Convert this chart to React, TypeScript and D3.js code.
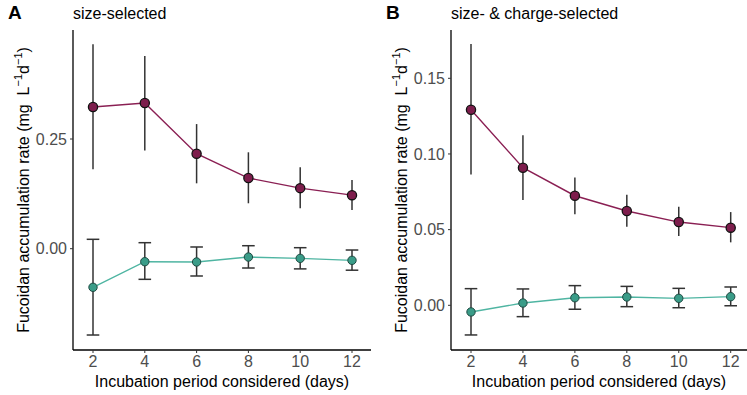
import React from "react";
import * as d3 from "d3";

const days = [2, 4, 6, 8, 10, 12];

// Panel A: size-selected
const aHighMean = [0.323, 0.332, 0.2165, 0.161, 0.138, 0.122];
const aHighLo = [0.181, 0.224, 0.149, 0.1035, 0.092, 0.088];
const aHighHi = [0.466, 0.439, 0.284, 0.2197, 0.1855, 0.1566];
const aLowMean = [-0.088, -0.0296, -0.0303, -0.019, -0.022, -0.0265];
const aLowLo = [-0.1967, -0.0698, -0.0622, -0.044, -0.046, -0.049];
const aLowHi = [0.0214, 0.0137, 0.0039, 0.0068, 0.0023, -0.003];
const aTicks = [0.0, 0.25];

// Panel B: size- & charge-selected
const bHighMean = [0.1292, 0.0909, 0.0724, 0.0623, 0.055, 0.0513];
const bHighLo = [0.0865, 0.0696, 0.0601, 0.0519, 0.0458, 0.0416];
const bHighHi = [0.1726, 0.1123, 0.0845, 0.073, 0.0651, 0.0616];
const bLowMean = [-0.0044, 0.0015, 0.005, 0.0055, 0.0046, 0.0057];
const bLowLo = [-0.0196, -0.0075, -0.0026, -0.0009, -0.0016, -0.0003];
const bLowHi = [0.011, 0.0108, 0.013, 0.0125, 0.0112, 0.0121];
const bTicks = [0.0, 0.05, 0.1, 0.15];

const FONT = "'Liberation Sans', Arial, sans-serif";
const MAG = "#8a1f53";
const MAG_FILL = "#7d1d4c";
const TEAL = "#4fb5a2";
const TEAL_FILL = "#3a9c88";
const ERR = "#333333";

type PanelProps = {
  letter: string;
  title: string;
  axisLeft: number;
  axisRight: number;
  x2px: number;
  x12px: number;
  yDomain: [number, number];
  yRange: [number, number];
  ticks: number[];
  fmt: (v: number) => string;
  high: { mean: number[]; lo: number[]; hi: number[] };
  low: { mean: number[]; lo: number[]; hi: number[] };
};

function Panel(p: PanelProps) {
  const top = 30;
  const bottom = 350;
  const x = d3.scaleLinear().domain([2, 12]).range([p.x2px, p.x12px]);
  const y = d3.scaleLinear().domain(p.yDomain).range(p.yRange);
  const line = d3
    .line<number>()
    .x((_, i) => x(days[i]))
    .y((v) => y(v));
  const capHalf = 6.3;
  const cx = (p.axisLeft + p.axisRight) / 2;
  const labelX = p.axisLeft - 44;
  const labelY = 190;
  return (
    <g>
      <text x={p.axisLeft - 65} y={19} fontFamily={FONT} fontWeight="bold" fontSize={19} fill="#000">
        {p.letter}
      </text>
      <text x={p.axisLeft} y={19} fontFamily={FONT} fontSize={16} fill="#000">
        {p.title}
      </text>
      {/* axes */}
      <line x1={p.axisLeft} x2={p.axisLeft} y1={top} y2={bottom} stroke="#000" strokeWidth={1.3} />
      <line x1={p.axisLeft} x2={p.axisRight} y1={bottom} y2={bottom} stroke="#000" strokeWidth={1.3} />
      {p.ticks.map((t) => (
        <g key={"y" + t}>
          <line x1={p.axisLeft - 3} x2={p.axisLeft} y1={y(t)} y2={y(t)} stroke="#333" strokeWidth={1} />
          <text
            x={p.axisLeft - 6}
            y={y(t)}
            dy="0.36em"
            textAnchor="end"
            fontFamily={FONT}
            fontSize={16}
            fill="#4d4d4d"
          >
            {p.fmt(t)}
          </text>
        </g>
      ))}
      {days.map((d) => (
        <g key={"x" + d}>
          <line x1={x(d)} x2={x(d)} y1={bottom} y2={bottom + 3} stroke="#333" strokeWidth={1} />
          <text
            x={x(d)}
            y={bottom + 17}
            textAnchor="middle"
            fontFamily={FONT}
            fontSize={16}
            fill="#4d4d4d"
          >
            {d}
          </text>
        </g>
      ))}
      <text x={cx} y={387} textAnchor="middle" fontFamily={FONT} fontSize={16} fill="#000">
        Incubation period considered (days)
      </text>
      <text
        transform={`translate(${labelX},${labelY}) rotate(-90)`}
        textAnchor="middle"
        fontFamily={FONT}
        fontSize={16}
        fill="#000"
        xmlSpace="preserve"
        style={{ whiteSpace: "pre" }}
      >
        {"Fucoidan accumulation rate (mg  L"}
        <tspan fontSize={11} dy={-7}>−1</tspan>
        <tspan dy={7}>d</tspan>
        <tspan fontSize={11} dy={-7}>−1</tspan>
        <tspan dy={7}>)</tspan>
      </text>
      {/* high series (no caps) */}
      {days.map((d, i) => (
        <line
          key={"he" + d}
          x1={x(d)}
          x2={x(d)}
          y1={y(p.high.lo[i])}
          y2={y(p.high.hi[i])}
          stroke={ERR}
          strokeWidth={1.5}
        />
      ))}
      <path d={line(p.high.mean) || ""} fill="none" stroke={MAG} strokeWidth={1.4} />
      {days.map((d, i) => (
        <circle key={"hp" + d} cx={x(d)} cy={y(p.high.mean[i])} r={4.6} fill={MAG_FILL} stroke="#111" strokeWidth={1.3} />
      ))}
      {/* low series (with caps) */}
      {days.map((d, i) => (
        <g key={"le" + d}>
          <line x1={x(d)} x2={x(d)} y1={y(p.low.lo[i])} y2={y(p.low.hi[i])} stroke={ERR} strokeWidth={1.5} />
          <line x1={x(d) - capHalf} x2={x(d) + capHalf} y1={y(p.low.lo[i])} y2={y(p.low.lo[i])} stroke={ERR} strokeWidth={1.5} />
          <line x1={x(d) - capHalf} x2={x(d) + capHalf} y1={y(p.low.hi[i])} y2={y(p.low.hi[i])} stroke={ERR} strokeWidth={1.5} />
        </g>
      ))}
      <path d={line(p.low.mean) || ""} fill="none" stroke={TEAL} strokeWidth={1.4} />
      {days.map((d, i) => (
        <circle key={"lp" + d} cx={x(d)} cy={y(p.low.mean[i])} r={4.2} fill={TEAL_FILL} stroke="#1f4a42" strokeWidth={1} />
      ))}
    </g>
  );
}

export default function App() {
  return (
    <svg
      width={747}
      height={395}
      style={{ position: "absolute", left: 0, top: 0, background: "#fff" }}
    >
      <rect width={747} height={395} fill="#fff" />
      <Panel
        letter="A"
        title="size-selected"
        axisLeft={73}
        axisRight={371}
        x2px={93}
        x12px={352}
        yDomain={[0, 0.25]}
        yRange={[248.7, 139]}
        ticks={aTicks}
        fmt={d3.format(".2f")}
        high={{ mean: aHighMean, lo: aHighLo, hi: aHighHi }}
        low={{ mean: aLowMean, lo: aLowLo, hi: aLowHi }}
      />
      <Panel
        letter="B"
        title="size- & charge-selected"
        axisLeft={451}
        axisRight={747}
        x2px={471}
        x12px={730.7}
        yDomain={[0, 0.15]}
        yRange={[305.3, 78.3]}
        ticks={bTicks}
        fmt={d3.format(".2f")}
        high={{ mean: bHighMean, lo: bHighLo, hi: bHighHi }}
        low={{ mean: bLowMean, lo: bLowLo, hi: bLowHi }}
      />
    </svg>
  );
}
